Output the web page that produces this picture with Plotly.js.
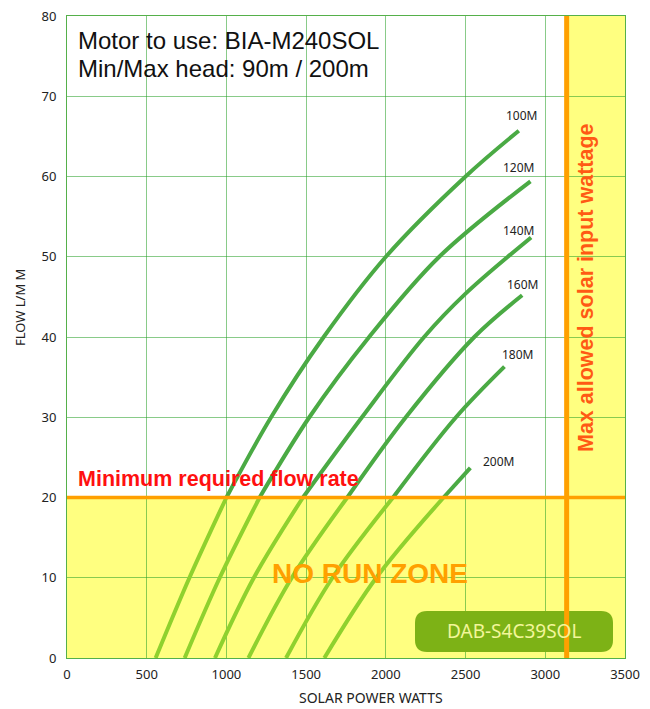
<!DOCTYPE html>
<html><head><meta charset="utf-8">
<script src="https://cdn.plot.ly/plotly-3.0.1.min.js"></script>
<style>html,body{margin:0;padding:0;background:#fff}#chart{width:650px;height:709px}</style>
</head><body><div id="chart"></div>
<script>
// ---- data ----
const headLabels = ['100M', '120M', '140M', '160M', '180M', '200M'];
const watts100 = [556, 768, 1000, 1280, 1610, 2000, 2500, 2834];
const flow100  = [0, 10, 20, 30, 40, 50, 60, 65.7];
const watts120 = [738, 958, 1208, 1520, 1895, 2335, 2907];
const flow120  = [0, 10, 20, 30, 40, 50, 59.4];
const watts140 = [928, 1172, 1480, 1850, 2240, 2500, 2911];
const flow140  = [0, 10, 20, 30, 40, 45.4, 52.4];
const watts160 = [1138, 1410, 1758, 2125, 2555, 2855];
const flow160  = [0, 10, 20, 30, 40, 45.2];
const watts180 = [1374, 1665, 2045, 2440, 2744];
const flow180  = [0, 10, 20, 30, 36.3];
const watts200 = [1614, 1940, 2362, 2530];
const flow200  = [0, 10, 20, 23.7];
const minFlow = 20;        // minimum required flow rate
const maxWatts = 3134;     // max allowed solar input wattage
const xTickVals = [0, 500, 1000, 1500, 2000, 2500, 3000, 3500];
const yTickVals = [0, 10, 20, 30, 40, 50, 60, 70, 80];

const allWatts = [watts100, watts120, watts140, watts160, watts180, watts200];
const allFlow  = [flow100, flow120, flow140, flow160, flow180, flow200];

// ---- styling ----
const W = 650, H = 709;
const M = {l: 67, r: 25, t: 16, b: 51};
const px = x => (x - M.l) / (W - M.l - M.r);
const py = y => (H - M.b - y) / (H - M.t - M.b);
const darkGreen = '#4aaa44', lightGreen = '#8fd12e';
const labelShift = [[3, 15], [-12, 14], [-13, 7], [0, 11], [13, 12], [28, 6]];

const traces = [];
allWatts.forEach((ws, i) => {
  const fs = allFlow[i];
  const lo = {x: [], y: []}, hi = {x: [], y: []};
  ws.forEach((w, j) => {
    if (fs[j] <= minFlow) { lo.x.push(w); lo.y.push(fs[j]); }
    if (fs[j] >= minFlow) { hi.x.push(w); hi.y.push(fs[j]); }
  });
  traces.push({x: lo.x, y: lo.y, type: 'scatter', mode: 'lines', hoverinfo: 'skip',
    line: {color: lightGreen, width: 4, shape: 'spline', smoothing: 1}, showlegend: false});
  traces.push({x: hi.x, y: hi.y, type: 'scatter', mode: 'lines', name: headLabels[i],
    line: {color: darkGreen, width: 4, shape: 'spline', smoothing: 1}, showlegend: false});
});

const annotations = headLabels.map((lab, i) => ({
  x: allWatts[i][allWatts[i].length - 1], y: allFlow[i][allFlow[i].length - 1],
  xref: 'x', yref: 'y', text: lab, showarrow: false,
  xshift: labelShift[i][0], yshift: labelShift[i][1],
  font: {family: 'Noto Sans', size: 12, color: '#222'}
}));
annotations.push(
  {xref: 'paper', yref: 'paper', x: px(76), y: py(40), xanchor: 'left', yanchor: 'middle', showarrow: false,
   text: 'Motor to use: BIA-M240SOL', font: {family: 'Liberation Sans', size: 24, color: '#111'}},
  {xref: 'paper', yref: 'paper', x: px(76), y: py(68), xanchor: 'left', yanchor: 'middle', showarrow: false,
   text: 'Min/Max head: 90m / 200m', font: {family: 'Liberation Sans', size: 24, color: '#111'}},
  {xref: 'paper', yref: 'paper', x: px(76), y: py(479), xanchor: 'left', yanchor: 'middle', showarrow: false,
   text: '<b>Minimum required flow rate</b>', font: {family: 'Liberation Sans', size: 21.5, color: '#ff1010'}},
  {xref: 'paper', yref: 'paper', x: px(370), y: py(573), xanchor: 'center', yanchor: 'middle', showarrow: false,
   text: '<b>NO RUN ZONE</b>', font: {family: 'Liberation Sans', size: 28, color: '#ffa000'}},
  {xref: 'paper', yref: 'paper', x: px(586), y: py(288), xanchor: 'center', yanchor: 'middle', showarrow: false,
   textangle: -90, text: '<b>Max allowed solar input wattage</b>', font: {family: 'Liberation Sans', size: 21.5, color: '#ff5a14'}},
  {xref: 'paper', yref: 'paper', x: px(514), y: py(631), xanchor: 'center', yanchor: 'middle', showarrow: false,
   text: 'DAB-S4C39SOL', font: {family: 'Noto Sans', size: 19, color: '#f3f69a'}},
  {xref: 'paper', yref: 'paper', x: px(371), y: py(697), xanchor: 'center', yanchor: 'middle', showarrow: false,
   text: 'SOLAR POWER WATTS', font: {family: 'Noto Sans', size: 14, color: '#222'}},
  {xref: 'paper', yref: 'paper', x: px(20), y: py(308), xanchor: 'center', yanchor: 'middle', showarrow: false,
   textangle: -90, text: 'FLOW L/M M', font: {family: 'Noto Sans', size: 13, color: '#222'}}
);

// rounded badge in paper coords
const bx0 = px(415), bx1 = px(613), by0 = py(652), by1 = py(611);
const rx = 12 / (W - M.l - M.r), ry = 12 / (H - M.t - M.b);
const badgePath = `M ${bx0 + rx} ${by0} L ${bx1 - rx} ${by0} Q ${bx1} ${by0} ${bx1} ${by0 + ry} ` +
  `L ${bx1} ${by1 - ry} Q ${bx1} ${by1} ${bx1 - rx} ${by1} L ${bx0 + rx} ${by1} Q ${bx0} ${by1} ${bx0} ${by1 - ry} ` +
  `L ${bx0} ${by0 + ry} Q ${bx0} ${by0} ${bx0 + rx} ${by0} Z`;

const shapes = [
  {type: 'rect', xref: 'x', yref: 'y', x0: 0, x1: 3500, y0: 0, y1: minFlow, fillcolor: '#ffff80', line: {width: 0}, layer: 'below'},
  {type: 'rect', xref: 'x', yref: 'y', x0: maxWatts, x1: 3500, y0: minFlow, y1: 80, fillcolor: '#ffff80', line: {width: 0}, layer: 'below'},
  {type: 'path', xref: 'paper', yref: 'paper', path: badgePath, fillcolor: '#7db216', line: {width: 0}, layer: 'above'},
  {type: 'line', xref: 'x', yref: 'y', x0: 0, x1: 3500, y0: minFlow, y1: minFlow, line: {color: '#ffa000', width: 3.5}, layer: 'above'},
  {type: 'line', xref: 'x', yref: 'y', x0: maxWatts, x1: maxWatts, y0: 0, y1: 80, line: {color: '#ffa000', width: 5}, layer: 'above'}
];

const axisCommon = {
  showgrid: true, gridcolor: 'rgba(40,160,40,0.55)', gridwidth: 1,
  zeroline: false, showline: true, mirror: true, linecolor: '#55b04a', linewidth: 1,
  ticks: 'outside', tickcolor: 'rgba(0,0,0,0)',
  tickfont: {family: 'Noto Sans', size: 13, color: '#222'}, fixedrange: true
};

const layout = {
  width: W, height: H, margin: M,
  paper_bgcolor: '#fff', plot_bgcolor: '#fff',
  xaxis: Object.assign({}, axisCommon, {range: [0, 3500], tickvals: xTickVals, ticklen: 4}),
  yaxis: Object.assign({}, axisCommon, {range: [0, 80], tickvals: yTickVals, ticklen: 7}),
  shapes: shapes, annotations: annotations, showlegend: false
};

Plotly.newPlot('chart', traces, layout, {displayModeBar: false, staticPlot: true});
</script></body></html>
